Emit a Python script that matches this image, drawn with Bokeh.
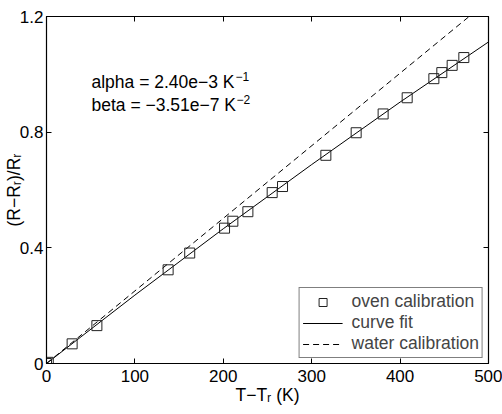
from bokeh.plotting import figure
from bokeh.models import Range1d, FixedTicker, LinearAxis, Label, Legend, LegendItem
from bokeh.embed import file_html
from bokeh.resources import INLINE

# ---- data ----
oven_dT = [0, 2, 29, 57, 137.6, 162, 201.4, 210.8, 227.8, 255.3, 267, 316,
           350.3, 380.8, 408, 438.2, 447.2, 458.9, 472.1]
oven_ratio = [0, 0.004, 0.068, 0.131, 0.324, 0.382, 0.468, 0.492, 0.525, 0.591,
              0.612, 0.720, 0.798, 0.863, 0.919, 0.985, 1.006, 1.031, 1.058]
fit_dT = [0, 100, 200, 300, 400, 500]
fit_ratio = [0, 0.2365, 0.466, 0.688, 0.904, 1.112]
water_dT = [0, 500]
water_ratio = [0, 1.255]
x_ticks = [0, 100, 200, 300, 400, 500]
y_ticks = [0, 0.4, 0.8, 1.2]
legend_labels = ["oven calibration", "curve fit", "water calibration"]
x_title = "T\u2212T\u1d63 (K)"
y_title = "(R\u2212R\u1d63)/R\u1d63"

FONT = "Liberation Sans"

p = figure(width=502, height=414, x_range=Range1d(0, 500), y_range=Range1d(0, 1.2),
           output_backend="svg", toolbar_location=None,
           min_border_left=46, min_border_right=14, min_border_top=16, min_border_bottom=51)
p.grid.visible = False
p.outline_line_color = "black"
p.outline_line_width = 1.2
p.background_fill_color = "white"
p.border_fill_color = "white"

p.add_layout(LinearAxis(), "above")
p.add_layout(LinearAxis(), "right")

for ax in p.xaxis:
    ax.ticker = FixedTicker(ticks=x_ticks)
for ax in p.yaxis:
    ax.ticker = FixedTicker(ticks=y_ticks)
    ax.major_label_overrides = {0: "0"}

for ax in p.axis:
    ax.major_tick_in = 5
    ax.major_tick_out = 0
    ax.minor_tick_in = 0
    ax.minor_tick_out = 0
    ax.axis_line_color = "black"
    ax.major_tick_line_color = "black"
    ax.major_label_text_font = FONT
    ax.major_label_text_font_size = "17px"
    ax.major_label_text_color = "black"

xa = p.below[0]
ya = p.left[0]
xa.major_label_standoff = 6
ya.major_label_standoff = 3
xa.axis_label = x_title
ya.axis_label = y_title
for ax in (xa, ya):
    ax.axis_label_text_font = FONT
    ax.axis_label_text_font_size = "17.5px"
    ax.axis_label_text_font_style = "normal"
    ax.axis_label_text_color = "black"
xa.axis_label_standoff = 0
ya.axis_label_standoff = -7
p.above[0].major_label_text_color = None
p.right[0].major_label_text_color = None

water = p.line(water_dT, water_ratio, line_color="black", line_width=1, line_dash="6 4")
fit = p.line(fit_dT, fit_ratio, line_color="black", line_width=1)
oven = p.scatter(oven_dT, oven_ratio, marker="square", size=10, fill_color=None,
                 line_color="#222222", line_width=1)

legend = Legend(items=[LegendItem(label=legend_labels[0], renderers=[oven]),
                       LegendItem(label=legend_labels[1], renderers=[fit]),
                       LegendItem(label=legend_labels[2], renderers=[water])],
                location="bottom_right", margin=5, padding=3, spacing=0,
                glyph_width=40, glyph_height=20, label_height=20, label_standoff=9,
                label_text_font=FONT, label_text_font_size="17.5px",
                border_line_color="black", border_line_width=1,
                background_fill_color="white", background_fill_alpha=1)
p.add_layout(legend, "center")

def lab(text, x, y, xo, yo, size="17.5px"):
    p.add_layout(Label(x=x, y=y, x_offset=xo, y_offset=yo, text=text,
                       text_font=FONT, text_font_size=size, text_color="black",
                       text_align="left", text_baseline="alphabetic"))

# annotation with superscripts
lab("alpha = 2.40e\u22123 K", 50.9, 0.9723, 0, 0)
lab("\u22121", 50.9, 0.9723, 144, 6, size="12px")
lab("beta = \u22123.51e\u22127 K", 50.9, 0.8927, 0, 0)
lab("\u22122", 50.9, 0.8927, 145, 6, size="12px")

open("out.html", "w").write(file_html(p, INLINE))
